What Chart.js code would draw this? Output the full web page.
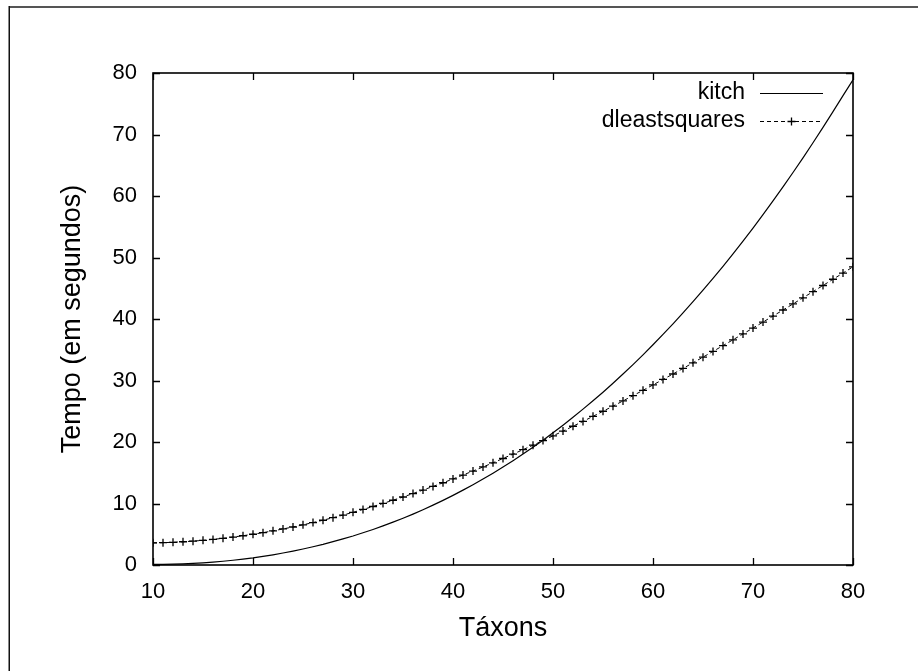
<!DOCTYPE html>
<html>
<head>
<meta charset="utf-8">
<script src="https://cdn.jsdelivr.net/npm/chart.js@4"></script>
<style>
  html, body { margin: 0; padding: 0; background: #fff; }
  #wrap { position: relative; width: 918px; height: 671px; }
  canvas { display: block; }
</style>
</head>
<body>
<div id="wrap"><canvas id="c" width="918" height="671"></canvas></div>
<script>
// ---- data ----
const taxons = [10,11,12,13,14,15,16,17,18,19,20,21,22,23,24,25,26,27,28,29,30,31,32,33,34,35,36,37,38,39,40,41,42,43,44,45,46,47,48,49,50,51,52,53,54,55,56,57,58,59,60,61,62,63,64,65,66,67,68,69,70,71,72,73,74,75,76,77,78,79,80];
const kitch = [0.10,0.11,0.14,0.19,0.26,0.35,0.47,0.61,0.77,0.96,1.16,1.40,1.66,1.95,2.26,2.60,2.97,3.36,3.79,4.24,4.72,5.24,5.78,6.36,6.97,7.61,8.28,8.99,9.73,10.51,11.32,12.17,13.05,13.97,14.93,15.93,16.96,18.04,19.15,20.30,21.50,22.74,24.02,25.34,26.70,28.10,29.56,31.05,32.59,34.17,35.81,37.49,39.22,40.99,42.81,44.69,46.60,48.57,50.60,52.67,54.79,56.97,59.21,61.49,63.82,66.21,68.66,71.16,73.72,76.33,78.90];
const dleastsquares = [3.60,3.63,3.69,3.78,3.88,4.01,4.16,4.34,4.54,4.76,5.00,5.26,5.55,5.86,6.18,6.53,6.90,7.28,7.69,8.12,8.56,9.03,9.51,10.01,10.53,11.06,11.62,12.19,12.77,13.37,13.99,14.63,15.28,15.94,16.62,17.32,18.03,18.75,19.48,20.23,21.00,21.77,22.56,23.35,24.17,25.00,25.83,26.68,27.54,28.40,29.28,30.17,31.06,31.96,32.88,33.80,34.73,35.67,36.62,37.57,38.53,39.50,40.48,41.46,42.45,43.45,44.45,45.45,46.46,47.47,48.48];
const seriesNames = ['kitch', 'dleastsquares'];
const xTitle = 'Táxons';
const yTitle = 'Tempo (em segundos)';
const xRange = [10, 80];
const yRange = [0, 80];
const tickStep = 10;

const FONT = '"Liberation Sans", Arial, Helvetica, sans-serif';

const toXY = (ys) => taxons.map((x, i) => ({x: x, y: ys[i]}));

// frame, inward ticks, outer border, gnuplot-style key
const gnuplotFrame = {
  id: 'gnuplotFrame',
  beforeDraw(chart) {
    const ctx = chart.ctx;
    ctx.save();
    ctx.fillStyle = '#fff';
    ctx.fillRect(0, 0, chart.width, chart.height);
    ctx.strokeStyle = '#555';
    ctx.lineWidth = 2;
    ctx.beginPath(); ctx.moveTo(9, 7); ctx.lineTo(chart.width, 7); ctx.stroke();
    ctx.strokeStyle = '#111';
    ctx.lineWidth = 1.5;
    ctx.beginPath(); ctx.moveTo(9.25, 6); ctx.lineTo(9.25, chart.height); ctx.stroke();
    ctx.restore();
  },
  afterDraw(chart) {
    const ctx = chart.ctx;
    const a = chart.chartArea;
    const xs = chart.scales.x, ys = chart.scales.y;
    const L = 7;
    ctx.save();
    ctx.strokeStyle = '#000';
    ctx.lineWidth = 1.3;
    ctx.beginPath();
    xs.ticks.forEach(t => {
      const px = Math.round(xs.getPixelForValue(t.value)) + 0.5;
      ctx.moveTo(px, a.bottom); ctx.lineTo(px, a.bottom - L);
      ctx.moveTo(px, a.top); ctx.lineTo(px, a.top + L);
    });
    ys.ticks.forEach(t => {
      const py = Math.round(ys.getPixelForValue(t.value)) + 0.5;
      ctx.moveTo(a.left, py); ctx.lineTo(a.left + L, py);
      ctx.moveTo(a.right, py); ctx.lineTo(a.right - L, py);
    });
    ctx.stroke();
    ctx.lineWidth = 1.6;
    ctx.strokeRect(a.left, a.top, a.right - a.left, a.bottom - a.top);

    const ds = chart.data.datasets;
    ctx.font = '23px ' + FONT;
    ctx.fillStyle = '#000';
    ctx.textAlign = 'right';
    ctx.textBaseline = 'middle';
    const rows = [93, 121];
    ds.forEach((d, i) => {
      const y = rows[i];
      ctx.fillText(d.label, 745, y);
      ctx.strokeStyle = d.borderColor;
      ctx.lineWidth = d.borderWidth;
      ctx.setLineDash(d.borderDash || []);
      ctx.beginPath(); ctx.moveTo(760, y + 0.5); ctx.lineTo(823, y + 0.5); ctx.stroke();
      ctx.setLineDash([]);
      if (d.pointRadius > 0) {
        const r = d.pointRadius, cx = 791.5;
        ctx.lineWidth = d.pointBorderWidth;
        ctx.beginPath();
        ctx.moveTo(cx - r, y + 0.5); ctx.lineTo(cx + r, y + 0.5);
        ctx.moveTo(cx, y + 0.5 - r); ctx.lineTo(cx, y + 0.5 + r);
        ctx.stroke();
      }
    });
    ctx.restore();
  }
};

new Chart(document.getElementById('c'), {
  type: 'scatter',
  data: {
    datasets: [
      {
        label: seriesNames[0],
        data: toXY(kitch),
        showLine: true,
        borderColor: '#000',
        borderWidth: 1.2,
        pointRadius: 0,
        pointHoverRadius: 0,
        tension: 0,
        fill: false
      },
      {
        label: seriesNames[1],
        data: toXY(dleastsquares),
        showLine: true,
        borderColor: '#000',
        borderWidth: 1,
        borderDash: [4, 3],
        pointStyle: 'cross',
        pointRadius: 4,
        pointBorderWidth: 1.3,
        pointBorderColor: '#000',
        pointBackgroundColor: '#000',
        pointHoverRadius: 4,
        tension: 0,
        fill: false
      }
    ]
  },
  options: {
    responsive: false,
    animation: false,
    devicePixelRatio: 1,
    layout: { padding: { left: 0, right: 65, top: 73, bottom: 0 } },
    plugins: { legend: { display: false }, tooltip: { enabled: false } },
    events: [],
    scales: {
      x: {
        type: 'linear',
        min: xRange[0], max: xRange[1],
        grid: { display: false, drawTicks: false },
        border: { display: false },
        ticks: { stepSize: tickStep, color: '#000', font: { family: FONT, size: 22 }, padding: 14, maxRotation: 0 },
        title: { display: true, text: xTitle, color: '#000', font: { family: FONT, size: 27 }, padding: { top: 0, bottom: 26 } },
        afterFit(s) { s.height = 106; }
      },
      y: {
        type: 'linear',
        min: yRange[0], max: yRange[1],
        grid: { display: false, drawTicks: false },
        border: { display: false },
        ticks: { stepSize: tickStep, color: '#000', font: { family: FONT, size: 22 }, padding: 16 },
        title: { display: true, text: yTitle, color: '#000', font: { family: FONT, size: 27 }, padding: { top: 56, bottom: 0 } },
        afterFit(s) { s.width = 153; }
      }
    }
  },
  plugins: [gnuplotFrame]
});
</script>
</body>
</html>
